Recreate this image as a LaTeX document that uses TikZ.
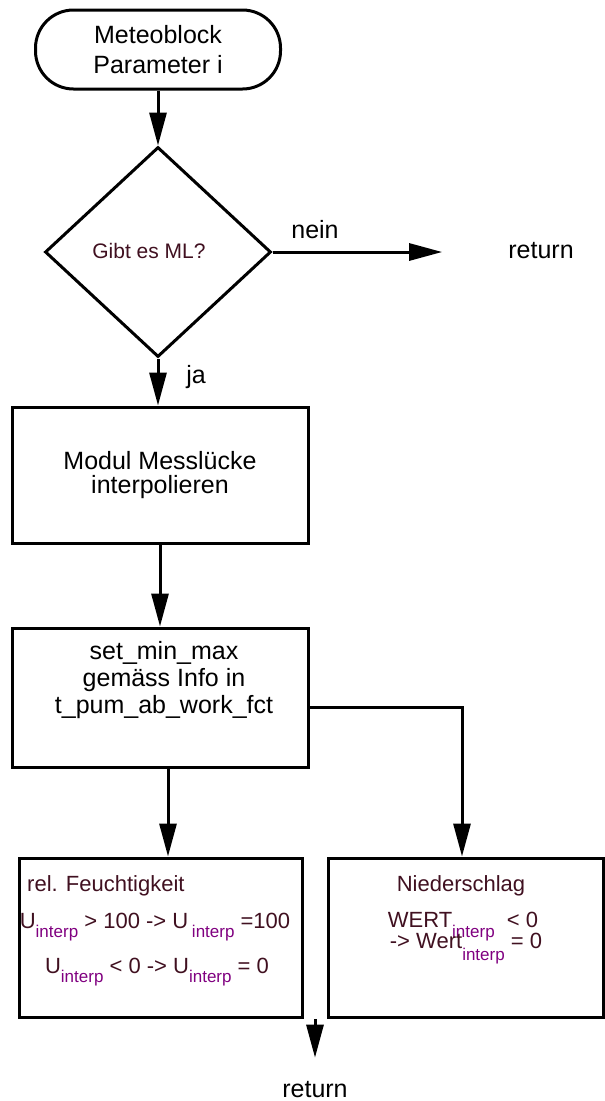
\documentclass[tikz,border=0pt]{standalone}
\usepackage{fontspec}
\setmainfont{Liberation Sans}
\usepackage{tikz}
\usetikzlibrary{shapes.geometric,arrows.meta,positioning,calc}
\definecolor{ippurple}{RGB}{128,0,128}
\definecolor{boxtext}{RGB}{64,16,32}
\newcommand{\ipsub}[1][9pt]{\raisebox{-#1}{\textcolor{ippurple}{\fontsize{17}{17}\selectfont interp}}}
\tikzset{
  termbox/.style={
    rectangle, rounded corners=38pt, draw, line width=3pt,
    minimum width=245pt, minimum height=79pt, inner sep=0pt,
    align=center, font=\fontsize{25}{30}\selectfont
  },
  procbox/.style 2 args={
    rectangle, draw, line width=3pt,
    minimum width=#1, minimum height=#2, inner sep=0pt,
    align=center, font=\fontsize{25}{24}\selectfont
  },
  decision/.style={
    diamond, draw, line width=3pt,
    minimum width=226pt, minimum height=210pt, inner sep=0pt
  },
  arr/.style={-{Triangle[length=33pt,width=17pt]}, line width=3pt},
  lbl/.style={font=\fontsize{25}{25}\selectfont, inner sep=0pt, anchor=base},
  btxt/.style={font=\fontsize{22}{22}\selectfont, text=boxtext, inner sep=0pt, anchor=base}
}
\begin{document}
\begin{tikzpicture}[x=1pt,y=-1pt]
  \useasboundingbox (0,0) rectangle (605,1101);

  \node[termbox] (start) at (158,49.5) {Meteoblock\\Parameter i};

  \node[decision] (ask) at (158,252) {};
  \node[btxt, font=\fontsize{21}{21}\selectfont] (asktxt) at (149,258) {Gibt es ML?};

  \node[lbl] (nein) at (315,238) {nein};
  \node[lbl] (ret1) at (541,258) {return};
  \node[lbl] (ja) at (196,383) {ja};

  \node[procbox={296pt}{136pt}] (modul) at (160,475)
    {Modul Messlücke\\interpolieren};

  \node[procbox={296pt}{139pt}] (setbox) at (160,697.5) {};
  \node[lbl, align=center, font=\fontsize{25}{27}\selectfont] (settxt) at (164,713)
    {set\_min\_max\\gemäss Info in\\t\_pum\_ab\_work\_fct};

  \node[procbox={283pt}{159pt}] (relf) at (160.5,937.5) {};
  \node[btxt, anchor=base west] (relftxt) at (27,891) {rel. Feuchtigkeit};
  \node[btxt] (relfa) at (155,928) {U\ipsub{} > 100 -> U\,\ipsub{} =100};
  \node[btxt] (relfb) at (157,973) {U\ipsub{} < 0 -> U\ipsub{} = 0};

  \node[procbox={275pt}{159pt}] (nieder) at (465.5,937.5) {};
  \node[btxt] (niedertxt) at (461,891) {Niederschlag};
  \node[btxt] (niedera) at (463,927) {WERT\ipsub[10pt]{} \ < 0};
  \node[btxt] (niederb) at (466,948) {-> Wert\ipsub[12pt]{} = 0};

  \coordinate (rstart) at (315,1019);
  \node[lbl] (ret2) at (315,1097) {return};

  \draw[arr] (start.south) -- (start.south |- ask.north);
  \draw[arr, shorten >=66pt] (ask.east) -- (ask.east -| ret1.west);
  \draw[arr] (ask.south) -- (ask.south |- modul.north);
  \draw[arr] (modul) -- (setbox);
  \draw[arr] ([xshift=8pt]setbox.south) -- ([xshift=8pt]setbox.south |- relf.north);
  \draw[arr] ([yshift=-9.5pt]setbox.east) -| ([xshift=-3.5pt]nieder.north);
  \draw[arr, shorten >=23pt] (rstart) -- (rstart |- ret2.north);
\end{tikzpicture}
\end{document}
